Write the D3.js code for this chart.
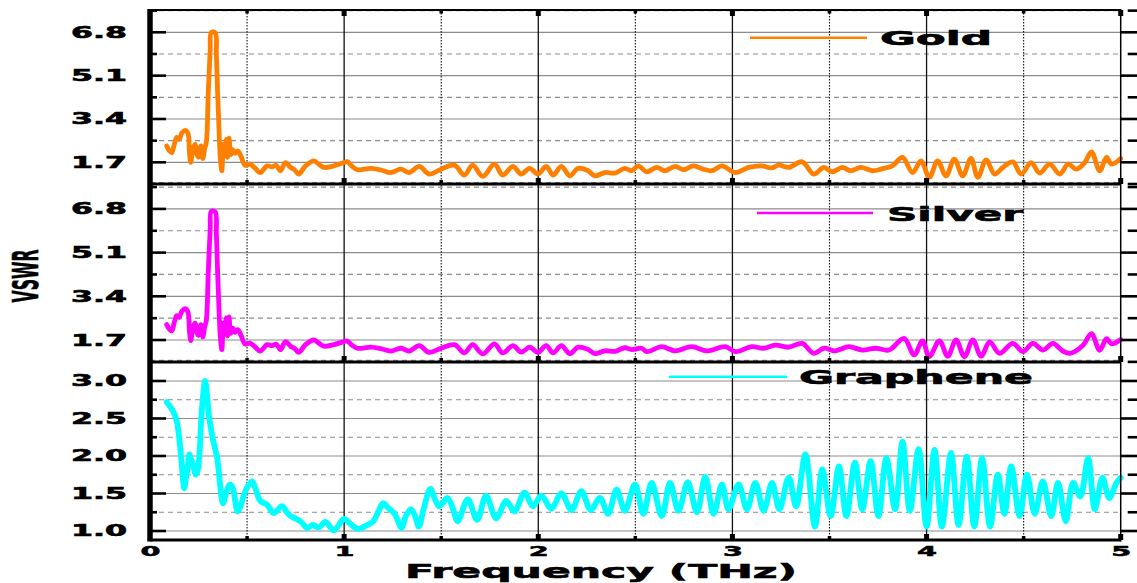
<!DOCTYPE html>
<html>
<head>
<meta charset="utf-8">
<script src="https://cdn.jsdelivr.net/npm/d3@7"></script>
<style>
  html, body { margin: 0; padding: 0; background: #fff; }
  svg { display: block; }
  text { font-family: "DejaVu Sans", "Liberation Sans", sans-serif; font-weight: bold; }
</style>
</head>
<body>
<svg id="chart" width="1137" height="583"></svg>
<script>
// ---------------- DATA ----------------
const xTicks = [0, 1, 2, 3, 4, 5];
const xHalfTicks = [0.5, 1.5, 2.5, 3.5, 4.5];
const metalMajorTicks = [1.7, 3.4, 5.1, 6.8];
const metalMinorTicks = [0.85, 2.55, 4.25, 5.95, 7.65];
const grapheneMajorTicks = [1.0, 1.5, 2.0, 2.5, 3.0];
const grapheneMinorTicks = [1.25, 1.75, 2.25, 2.75];
const seriesNames = ["Gold", "Silver", "Graphene"];

const goldFreq = [0.086,0.100,0.112,0.125,0.138,0.150,0.164,0.180,0.195,0.203,0.210,0.222,0.233,0.242,0.250,0.262,0.272,0.282,0.290,0.300,0.310,0.316,0.336,0.342,0.348,0.353,0.362,0.370,0.378,0.386,0.393,0.400,0.407,0.416,0.426,0.438,0.452,0.468,0.490,0.515,0.540,0.568,0.603,0.630,0.650,0.672,0.698,0.724,0.745,0.766,0.801,0.844,0.870,0.896,0.947,0.999,1.016,1.040,1.068,1.137,1.190,1.240,1.292,1.335,1.387,1.438,1.499,1.568,1.619,1.662,1.714,1.774,1.817,1.869,1.912,1.955,1.998,2.041,2.076,2.119,2.162,2.205,2.257,2.291,2.343,2.394,2.446,2.481,2.515,2.558,2.610,2.653,2.704,2.748,2.799,2.851,2.894,2.946,3.015,3.084,3.152,3.200,3.239,3.290,3.359,3.419,3.471,3.514,3.566,3.609,3.661,3.721,3.773,3.824,3.876,3.928,3.971,4.014,4.057,4.100,4.143,4.186,4.229,4.264,4.307,4.350,4.393,4.444,4.487,4.539,4.582,4.634,4.686,4.729,4.772,4.815,4.849,4.892,4.927,4.953,5.000];
const goldVswr = [2.34,2.15,2.08,2.40,2.68,2.60,2.85,2.95,2.85,2.10,1.70,2.25,2.40,2.00,1.90,2.34,1.85,2.25,2.47,4.40,6.10,6.80,6.78,5.90,4.50,3.50,1.90,1.37,2.40,1.95,2.60,1.90,2.65,2.00,2.20,2.05,2.15,1.95,1.58,1.63,1.48,1.30,1.56,1.52,1.58,1.37,1.69,1.50,1.40,1.24,1.56,1.76,1.62,1.50,1.56,1.69,1.73,1.55,1.41,1.46,1.40,1.30,1.43,1.30,1.54,1.24,1.43,1.59,1.20,1.59,1.15,1.63,1.20,1.54,1.24,1.46,1.24,1.54,1.20,1.54,1.17,1.46,1.37,1.17,1.30,1.28,1.46,1.37,1.56,1.33,1.50,1.37,1.54,1.41,1.56,1.43,1.37,1.56,1.30,1.50,1.56,1.48,1.59,1.50,1.72,1.24,1.50,1.33,1.50,1.37,1.50,1.37,1.45,1.56,1.89,1.30,1.76,1.11,1.76,1.17,1.82,1.17,1.85,1.11,1.80,1.24,1.50,1.72,1.24,1.69,1.28,1.63,1.24,1.63,1.43,1.69,2.11,1.37,1.89,1.63,1.85];

const silverFreq = [0.086,0.100,0.112,0.125,0.138,0.150,0.164,0.180,0.195,0.203,0.210,0.222,0.233,0.242,0.250,0.262,0.272,0.282,0.290,0.300,0.310,0.316,0.336,0.342,0.348,0.353,0.362,0.370,0.378,0.386,0.393,0.400,0.407,0.416,0.426,0.438,0.452,0.468,0.490,0.515,0.540,0.568,0.603,0.630,0.650,0.672,0.698,0.724,0.745,0.766,0.801,0.844,0.870,0.896,0.947,0.999,1.016,1.040,1.068,1.137,1.190,1.240,1.292,1.335,1.387,1.438,1.499,1.568,1.619,1.662,1.714,1.774,1.817,1.869,1.912,1.955,1.998,2.041,2.076,2.119,2.162,2.205,2.257,2.291,2.343,2.394,2.446,2.481,2.532,2.560,2.636,2.704,2.791,2.868,2.963,3.015,3.101,3.160,3.221,3.290,3.359,3.419,3.471,3.530,3.600,3.669,3.738,3.807,3.884,3.936,3.979,4.014,4.066,4.109,4.152,4.195,4.238,4.281,4.325,4.376,4.444,4.496,4.548,4.600,4.651,4.700,4.737,4.806,4.849,4.892,4.927,4.953,5.000];
const silverVswr = [2.30,2.12,2.05,2.38,2.65,2.58,2.82,2.92,2.80,2.05,1.68,2.22,2.36,1.98,1.88,2.30,1.82,2.22,2.45,4.30,6.00,6.70,6.68,5.80,4.40,3.40,1.85,1.33,2.36,1.92,2.56,1.86,2.60,1.96,2.16,2.00,2.10,1.90,1.54,1.58,1.44,1.27,1.52,1.48,1.54,1.33,1.64,1.46,1.37,1.22,1.52,1.70,1.58,1.46,1.52,1.64,1.66,1.50,1.38,1.42,1.36,1.27,1.38,1.27,1.48,1.22,1.38,1.52,1.20,1.52,1.16,1.55,1.20,1.48,1.23,1.42,1.22,1.48,1.20,1.48,1.17,1.42,1.33,1.17,1.28,1.26,1.40,1.33,1.38,1.25,1.44,1.28,1.44,1.28,1.44,1.25,1.44,1.38,1.50,1.42,1.57,1.18,1.38,1.28,1.44,1.31,1.38,1.31,1.76,1.12,1.67,1.05,1.67,1.07,1.70,1.05,1.70,1.07,1.63,1.18,1.57,1.25,1.57,1.31,1.57,1.28,1.18,1.50,1.95,1.30,1.75,1.55,1.72];

const grapheneFreq = [0.086,0.120,0.138,0.155,0.168,0.176,0.185,0.193,0.203,0.212,0.224,0.235,0.245,0.255,0.267,0.284,0.296,0.303,0.315,0.330,0.345,0.358,0.368,0.376,0.393,0.410,0.427,0.440,0.451,0.465,0.480,0.500,0.526,0.543,0.568,0.603,0.637,0.680,0.705,0.724,0.775,0.810,0.836,0.870,0.904,0.947,0.999,1.030,1.068,1.120,1.150,1.175,1.200,1.230,1.257,1.275,1.295,1.318,1.344,1.365,1.385,1.410,1.444,1.468,1.490,1.533,1.560,1.585,1.637,1.685,1.731,1.783,1.835,1.877,1.929,1.972,2.016,2.067,2.119,2.171,2.222,2.270,2.317,2.360,2.403,2.446,2.498,2.541,2.584,2.636,2.679,2.722,2.770,2.817,2.860,2.903,2.946,2.980,3.032,3.075,3.118,3.161,3.204,3.242,3.290,3.328,3.376,3.425,3.463,3.506,3.549,3.587,3.631,3.669,3.712,3.752,3.793,3.838,3.876,3.914,3.959,4.000,4.041,4.079,4.126,4.165,4.207,4.246,4.286,4.327,4.367,4.401,4.436,4.479,4.517,4.557,4.599,4.642,4.677,4.717,4.755,4.792,4.832,4.867,4.906,4.941,4.978,5.000];
const grapheneVswr = [2.72,2.59,2.46,2.13,1.75,1.57,1.70,1.82,2.02,1.95,1.86,1.75,1.80,2.04,2.61,3.00,2.75,2.55,2.35,2.15,1.99,1.70,1.45,1.37,1.51,1.62,1.57,1.38,1.26,1.32,1.45,1.58,1.66,1.57,1.40,1.35,1.24,1.33,1.25,1.20,1.13,1.04,1.08,1.05,1.12,1.01,1.16,1.10,1.03,1.08,1.13,1.25,1.37,1.30,1.24,1.15,1.04,1.20,1.29,1.20,1.06,1.30,1.56,1.42,1.33,1.44,1.30,1.13,1.42,1.15,1.47,1.17,1.40,1.26,1.51,1.33,1.47,1.30,1.50,1.28,1.53,1.28,1.44,1.23,1.55,1.27,1.62,1.23,1.64,1.20,1.64,1.27,1.65,1.25,1.72,1.23,1.62,1.29,1.62,1.29,1.64,1.27,1.64,1.29,1.71,1.33,2.02,1.06,1.82,1.20,1.86,1.20,1.91,1.29,1.93,1.20,1.97,1.29,2.19,1.27,2.09,1.06,2.08,1.06,2.04,1.08,1.99,1.06,1.97,1.06,1.75,1.23,1.86,1.20,1.75,1.23,1.66,1.20,1.64,1.13,1.64,1.46,1.97,1.29,1.71,1.44,1.64,1.71];

// ---------------- LAYOUT ----------------
const svg = d3.select("#chart");
svg.append("rect").attr("width", 1137).attr("height", 583).attr("fill", "#fff");

const xLeft = 150, xRight = 1120.7;
const x = d3.scaleLinear().domain([0, 5]).range([xLeft, xRight]);

const panels = [
  { name: seriesNames[0], freq: goldFreq, vals: goldVswr, color: "#FF8000", top: 10, bottom: 184,
    domain: [0.85, 7.675], major: metalMajorTicks, minor: metalMinorTicks, fmt: d3.format(".1f"),
    leg: { x1: 750, x2: 867, ly: 37.7, tx: 880, ty: 44.5, tl: 112 }, lw: 4.8 },
  { name: seriesNames[1], freq: silverFreq, vals: silverVswr, color: "#FF00FF", top: 185, bottom: 362,
    domain: [0.845, 7.73], major: metalMajorTicks, minor: metalMinorTicks, fmt: d3.format(".1f"),
    leg: { x1: 757, x2: 873, ly: 213, tx: 887, ty: 220.5, tl: 136 }, lw: 4.8 },
  { name: seriesNames[2], freq: grapheneFreq, vals: grapheneVswr, color: "#00FFFF", top: 362, bottom: 540,
    domain: [0.88, 3.253], major: grapheneMajorTicks, minor: grapheneMinorTicks, fmt: d3.format(".1f"),
    leg: { x1: 669, x2: 787, ly: 376.7, tx: 799, ty: 383.5, tl: 234 }, lw: 5.8 }
];

panels.forEach(p => {
  const y = d3.scaleLinear().domain(p.domain).range([p.bottom, p.top]);
  const g = svg.append("g");

  // horizontal grid
  g.selectAll(".hmaj").data(p.major).join("line")
    .attr("x1", xLeft).attr("x2", xRight)
    .attr("y1", d => y(d)).attr("y2", d => y(d))
    .attr("stroke", "#8c8c8c").attr("stroke-width", 1.2);
  g.selectAll(".hmin").data(p.minor.filter(d => d > p.domain[0] && d < p.domain[1])).join("line")
    .attr("x1", xLeft).attr("x2", xRight)
    .attr("y1", d => y(d)).attr("y2", d => y(d))
    .attr("stroke", "#8c8c8c").attr("stroke-width", 1.2).attr("stroke-dasharray", "5,4");
  p.minor.filter(d => Math.abs(y(d) - p.bottom) < 3).forEach(d => {
    g.append("line").attr("x1", xLeft).attr("x2", xRight)
      .attr("y1", y(d) - 1.5).attr("y2", y(d) - 1.5)
      .attr("stroke", "#8c8c8c").attr("stroke-width", 1.2).attr("stroke-dasharray", "5,4");
  });

  // vertical grid
  g.selectAll(".vmaj").data(xTicks.filter(d => d > 0 && d < 5)).join("line")
    .attr("x1", d => x(d)).attr("x2", d => x(d))
    .attr("y1", p.top).attr("y2", p.bottom)
    .attr("stroke", "#111").attr("stroke-width", 1.3);
  g.selectAll(".vmin").data(xHalfTicks).join("line")
    .attr("x1", d => x(d)).attr("x2", d => x(d))
    .attr("y1", p.top).attr("y2", p.bottom)
    .attr("stroke", "#111").attr("stroke-width", 1.1).attr("stroke-dasharray", "1.5,1.5");

  // curve
  const line = d3.line()
    .x((d, i) => x(p.freq[i]))
    .y(d => y(d))
    .curve(d3.curveCatmullRom.alpha(0.5));
  g.append("path").datum(p.vals)
    .attr("d", line)
    .attr("fill", "none").attr("stroke", p.color).attr("stroke-width", p.lw)
    .attr("stroke-linejoin", "round").attr("stroke-linecap", "round");

  // left ticks (inward)
  g.selectAll(".ltmaj").data(p.major).join("line")
    .attr("x1", xLeft).attr("x2", xLeft + 16)
    .attr("y1", d => y(d)).attr("y2", d => y(d))
    .attr("stroke", "#000").attr("stroke-width", 2.6);
  g.selectAll(".ltmin").data(p.minor.filter(d => d > p.domain[0] + 0.05 && d < p.domain[1])).join("line")
    .attr("x1", xLeft).attr("x2", xLeft + 7)
    .attr("y1", d => y(d)).attr("y2", d => y(d))
    .attr("stroke", "#000").attr("stroke-width", 2.6);
  // right ticks
  g.selectAll(".rtmaj").data(p.major).join("line")
    .attr("x1", xRight).attr("x2", xRight + 20)
    .attr("y1", d => y(d)).attr("y2", d => y(d))
    .attr("stroke", "#000").attr("stroke-width", 2.6);
  g.selectAll(".rtmin").data(p.minor.filter(d => d >= p.domain[0] && d < p.domain[1])).join("line")
    .attr("x1", xRight + 7).attr("x2", xRight + 20)
    .attr("y1", d => y(d)).attr("y2", d => y(d))
    .attr("stroke", "#000").attr("stroke-width", 2.6);

  // bottom ticks (up, inward)
  g.selectAll(".ttmaj").data(xTicks.filter(d => d > 0)).join("line")
    .attr("x1", d => x(d)).attr("x2", d => x(d))
    .attr("y1", p.bottom).attr("y2", p.bottom - 6)
    .attr("stroke", "#000").attr("stroke-width", 5);
  g.selectAll(".ttmin").data(xHalfTicks).join("line")
    .attr("x1", d => x(d)).attr("x2", d => x(d))
    .attr("y1", p.bottom).attr("y2", p.bottom - 4)
    .attr("stroke", "#000").attr("stroke-width", 3.5);
  if (p.top === 10) {
    g.selectAll(".topmaj").data(xTicks.filter(d => d > 0)).join("line")
      .attr("x1", d => x(d)).attr("x2", d => x(d))
      .attr("y1", p.top).attr("y2", p.top + 6)
      .attr("stroke", "#000").attr("stroke-width", 5);
    g.selectAll(".topmin").data(xHalfTicks).join("line")
      .attr("x1", d => x(d)).attr("x2", d => x(d))
      .attr("y1", p.top).attr("y2", p.top + 3.5)
      .attr("stroke", "#000").attr("stroke-width", 3.5);
  }

  // panel bottom border
  g.append("line").attr("x1", xLeft).attr("x2", xRight)
    .attr("y1", p.bottom).attr("y2", p.bottom)
    .attr("stroke", "#000").attr("stroke-width", 3);

  // y tick labels
  g.selectAll(".ylab").data(p.major).join("text")
    .attr("x", 127).attr("y", d => y(d) + 5.5)
    .attr("text-anchor", "end")
    .attr("font-size", 15)
    .attr("textLength", 56).attr("lengthAdjust", "spacingAndGlyphs")
    .attr("stroke", "#000").attr("stroke-width", 0.6)
    .text(d => p.fmt(d));

  // legend
  g.append("line").attr("x1", p.leg.x1).attr("x2", p.leg.x2)
    .attr("y1", p.leg.ly).attr("y2", p.leg.ly)
    .attr("stroke", p.color).attr("stroke-width", 2.5);
  g.append("text").attr("x", p.leg.tx).attr("y", p.leg.ty)
    .attr("font-size", 19.5)
    .attr("textLength", p.leg.tl).attr("lengthAdjust", "spacingAndGlyphs")
    .attr("stroke", "#000").attr("stroke-width", 0.6)
    .text(p.name);
});

// frame
svg.append("line").attr("x1", xLeft - 2).attr("x2", xRight).attr("y1", 10).attr("y2", 10)
  .attr("stroke", "#000").attr("stroke-width", 2);
svg.append("line").attr("x1", xLeft).attr("x2", xLeft).attr("y1", 9).attr("y2", 541.5)
  .attr("stroke", "#000").attr("stroke-width", 5.5);
svg.append("line").attr("x1", xRight).attr("x2", xRight).attr("y1", 9).attr("y2", 541.5)
  .attr("stroke", "#000").attr("stroke-width", 1.5);

// x tick labels
svg.selectAll(".xlab").data(xTicks).join("text")
  .attr("x", d => x(d) + 0.5).attr("y", 556)
  .attr("text-anchor", "middle")
  .attr("font-size", 13.5)
  .attr("textLength", 20).attr("lengthAdjust", "spacingAndGlyphs")
  .attr("stroke", "#000").attr("stroke-width", 0.5)
  .text(d => d3.format("d")(d));

// axis titles
svg.append("text").attr("x", 405).attr("y", 578)
  .attr("font-size", 20)
  .attr("textLength", 392).attr("lengthAdjust", "spacingAndGlyphs")
  .attr("stroke", "#000").attr("stroke-width", 0.6)
  .text("Frequency (THz)");

svg.append("text")
  .attr("transform", "translate(38,276) rotate(-90)")
  .attr("text-anchor", "middle")
  .attr("font-size", 36)
  .attr("textLength", 53).attr("lengthAdjust", "spacingAndGlyphs")
  .attr("stroke", "#000").attr("stroke-width", 0.6)
  .text("VSWR");
</script>
</body>
</html>
